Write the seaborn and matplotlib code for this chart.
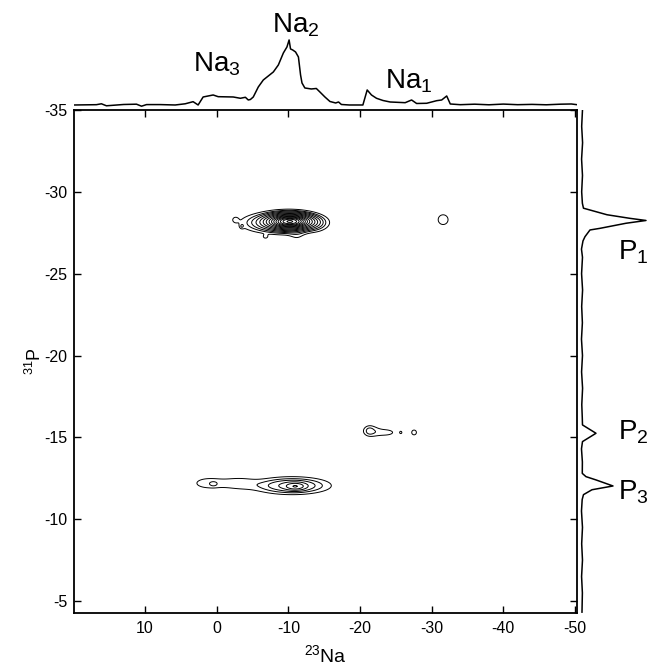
import matplotlib
matplotlib.use("Agg")
import matplotlib.pyplot as plt
import numpy as np
import pandas as pd
import seaborn as sns

# --- 23Na projection (top), ppm vs. intensity ---
na_ppm = [19.9, 16.8, 16.1, 15.4, 13.0, 11.2, 10.5, 9.8, 7.9, 5.8, 4.4, 3.3,
          2.6, 1.9, 0.5, -0.2, -2.3, -3.3, -4.0, -4.4, -4.7, -5.1, -5.8, -6.5,
          -7.2, -7.9, -8.6, -9.3, -9.8, -10.1, -10.3, -10.6, -11.0, -11.4,
          -11.7, -11.9, -12.3, -13.2, -13.9, -14.4, -15.1, -15.8, -16.6,
          -17.0, -17.4, -18.5, -20.4, -21.0, -21.6, -22.3, -23.2, -24.2,
          -26.3, -27.2, -27.9, -29.3, -30.7, -31.4, -32.1, -32.6, -34.0,
          -36.0, -38.0, -40.0, -42.0, -44.0, -46.0, -48.0, -49.5, -50.3]
na_proj = [0.0, 0.3, 1.2, -0.8, 0.5, 0.8, -1.2, 0.4, 0.4, 0.0, 1.2, 3.3,
           0.0, 8.0, 10.0, 8.3, 8.0, 6.7, 7.7, 5.0, 5.5, 8.0, 18.0, 25.0,
           29.0, 33.0, 40.0, 52.0, 58.0, 65.0, 56.0, 55.0, 53.0, 48.0,
           30.0, 22.0, 17.0, 16.0, 16.5, 13.0, 8.0, 3.5, 2.0,
           3.0, 0.5, 0.0, 0.0, 15.0, 10.0, 6.7, 4.5, 3.0,
           2.3, 5.0, 1.5, 1.7, 4.3, 5.0, 9.0, 1.0, 0.3,
           0.8, 0.2, 0.9, 0.3, 0.6, 0.2, 0.8, 1.0, 0.3]

# --- 31P projection (right), ppm vs. intensity ---
p_ppm = [-35.0, -34.0, -33.0, -32.0, -31.0, -30.0, -29.3, -29.0, -28.6,
         -28.38, -28.25, -28.08, -27.77, -27.67, -27.26, -27.0, -26.5,
         -26.0, -25.0, -24.0, -23.0, -22.0, -21.0, -20.0, -19.0, -18.0,
         -17.0, -16.2, -15.76, -15.25, -14.74, -14.3, -13.5, -12.8, -12.6,
         -12.4, -12.03, -11.8, -11.5, -11.2, -10.5, -9.5, -8.5, -7.5,
         -6.5, -5.5, -4.3]
p_proj = [0.5, -0.3, 0.6, -0.4, 0.5, -0.3, 0.4, 1.5, 25.0,
          48.0, 64.0, 44.0, 18.0, 8.0, 3.0, 1.0, -0.5,
          0.5, -0.4, 0.6, -0.3, 0.4, -0.5, 0.5, -0.4, 0.6,
          -0.2, 0.3, 0.5, 14.0, 0.5, -0.5, 0.4, 0.3, 4.0,
          14.0, 31.0, 10.0, 1.5, 0.2, -0.5, 0.5, -0.3, 0.5,
          -0.4, 0.4, 0.0]

# --- 2D cross peaks: centre (23Na, 31P), widths, height ---
peak_na = [-9.0, -10.3, -11.2, -2.6, -3.5, -6.8, -14.0, -31.6,
           1.2, -3.0, -10.5, -11.0, 0.45,
           -21.4, -23.6, -21.3, -25.7, -27.55]
peak_p = [-28.1, -28.2, -27.3, -28.3, -27.9, -27.25, -28.0, -28.3,
          -12.2, -12.2, -12.05, -12.0, -12.15,
          -15.4, -15.3, -15.4, -15.3, -15.3]
peak_wna = [3.2, 1.9, 0.8, 0.3, 0.2, 0.3, 1.0, 0.65,
            1.8, 1.8, 3.3, 0.9, 0.35,
            0.9, 1.3, 0.35, 0.15, 0.4]
peak_wp = [0.38, 0.28, 0.3, 0.12, 0.1, 0.1, 0.3, 0.28,
           0.3, 0.3, 0.33, 0.15, 0.1,
           0.3, 0.2, 0.15, 0.07, 0.18]
peak_amp = [0.2, 0.8, 0.03, 0.045, 0.042, 0.043, 0.03, 0.07,
            0.058, 0.052, 0.16, 0.1, 0.03,
            0.06, 0.052, 0.03, 0.045, 0.055]

contour_levels = [0.04, 0.07, 0.1, 0.14, 0.19, 0.25, 0.32, 0.4, 0.48,
                  0.56, 0.64, 0.72, 0.8, 0.88, 0.96]

sns.set_style("ticks")
plt.rcParams["font.family"] = ["Liberation Sans", "DejaVu Sans"]
plt.rcParams["mathtext.fontset"] = "custom"
plt.rcParams["mathtext.rm"] = "Liberation Sans"
plt.rcParams["mathtext.it"] = "Liberation Sans:italic"
plt.rcParams["axes.unicode_minus"] = False
for key in ["text.color", "axes.labelcolor", "xtick.color", "ytick.color",
            "axes.edgecolor"]:
    plt.rcParams[key] = "black"

xlim = (19.93, -50.28)
ylim = (-4.30, -35.0)

fig = plt.figure(figsize=(6.5, 6.67), dpi=100)
ax = fig.add_axes([0.1138, 0.0817, 0.7738, 0.7534])
ax_top = fig.add_axes([0.1138, 0.8351, 0.7738, 0.12])
ax_right = fig.add_axes([0.8892, 0.0817, 0.1108, 0.7534])

# 2D map built from the cross peak table
gx = np.linspace(21, -52, 900)
gy = np.linspace(-36, -3.5, 700)
X, Y = np.meshgrid(gx, gy)
Z = np.zeros_like(X)
for cx, cy, sx, sy, a in zip(peak_na, peak_p, peak_wna, peak_wp, peak_amp):
    Z += a * np.exp(-0.5 * ((X - cx) / sx) ** 2 - 0.5 * ((Y - cy) / sy) ** 2)
ax.contour(X, Y, Z, levels=contour_levels, colors="black", linewidths=0.7)

ax.set_xlim(*xlim)
ax.set_ylim(*ylim)
ax.set_xticks([10, 0, -10, -20, -30, -40, -50])
ax.set_yticks([-35, -30, -25, -20, -15, -10, -5])
ax.tick_params(direction="in", length=5, width=1.0, top=True, right=True,
               labelsize=11.5)
ax.tick_params(axis="x", pad=6)
ax.tick_params(axis="y", pad=4.5)
for s in ax.spines.values():
    s.set_linewidth(1.3)
ax.set_xlabel("$^{23}$Na", fontsize=14, labelpad=6)
ax.set_ylabel("$^{31}$P", fontsize=13, labelpad=0)

# top projection
top_df = pd.DataFrame({"ppm": na_ppm, "I": na_proj})
sns.lineplot(data=top_df, x="ppm", y="I", ax=ax_top, color="black",
             linewidth=1.1, sort=False, estimator=None)
ax_top.set_xlim(*xlim)
ax_top.set_ylim(-5, 75)
ax_top.axis("off")
ax_top.text(3.27, 33, "Na$_3$", fontsize=20, ha="left", va="baseline")
ax_top.text(-7.68, 72, "Na$_2$", fontsize=20, ha="left", va="baseline")
ax_top.text(-23.5, 16, "Na$_1$", fontsize=20, ha="left", va="baseline")

# right projection
right_df = pd.DataFrame({"ppm": p_ppm, "I": p_proj})
sns.lineplot(data=right_df, x="I", y="ppm", ax=ax_right, color="black",
             linewidth=1.1, sort=False, estimator=None)
ax_right.set_xlim(-4, 68)
ax_right.set_ylim(*ylim)
ax_right.axis("off")
ax_right.text(36, -25.84, "P$_1$", fontsize=20, ha="left", va="baseline")
ax_right.text(36, -14.84, "P$_2$", fontsize=20, ha="left", va="baseline")
ax_right.text(36, -11.18, "P$_3$", fontsize=20, ha="left", va="baseline")

fig.savefig("out.png", dpi=100)
